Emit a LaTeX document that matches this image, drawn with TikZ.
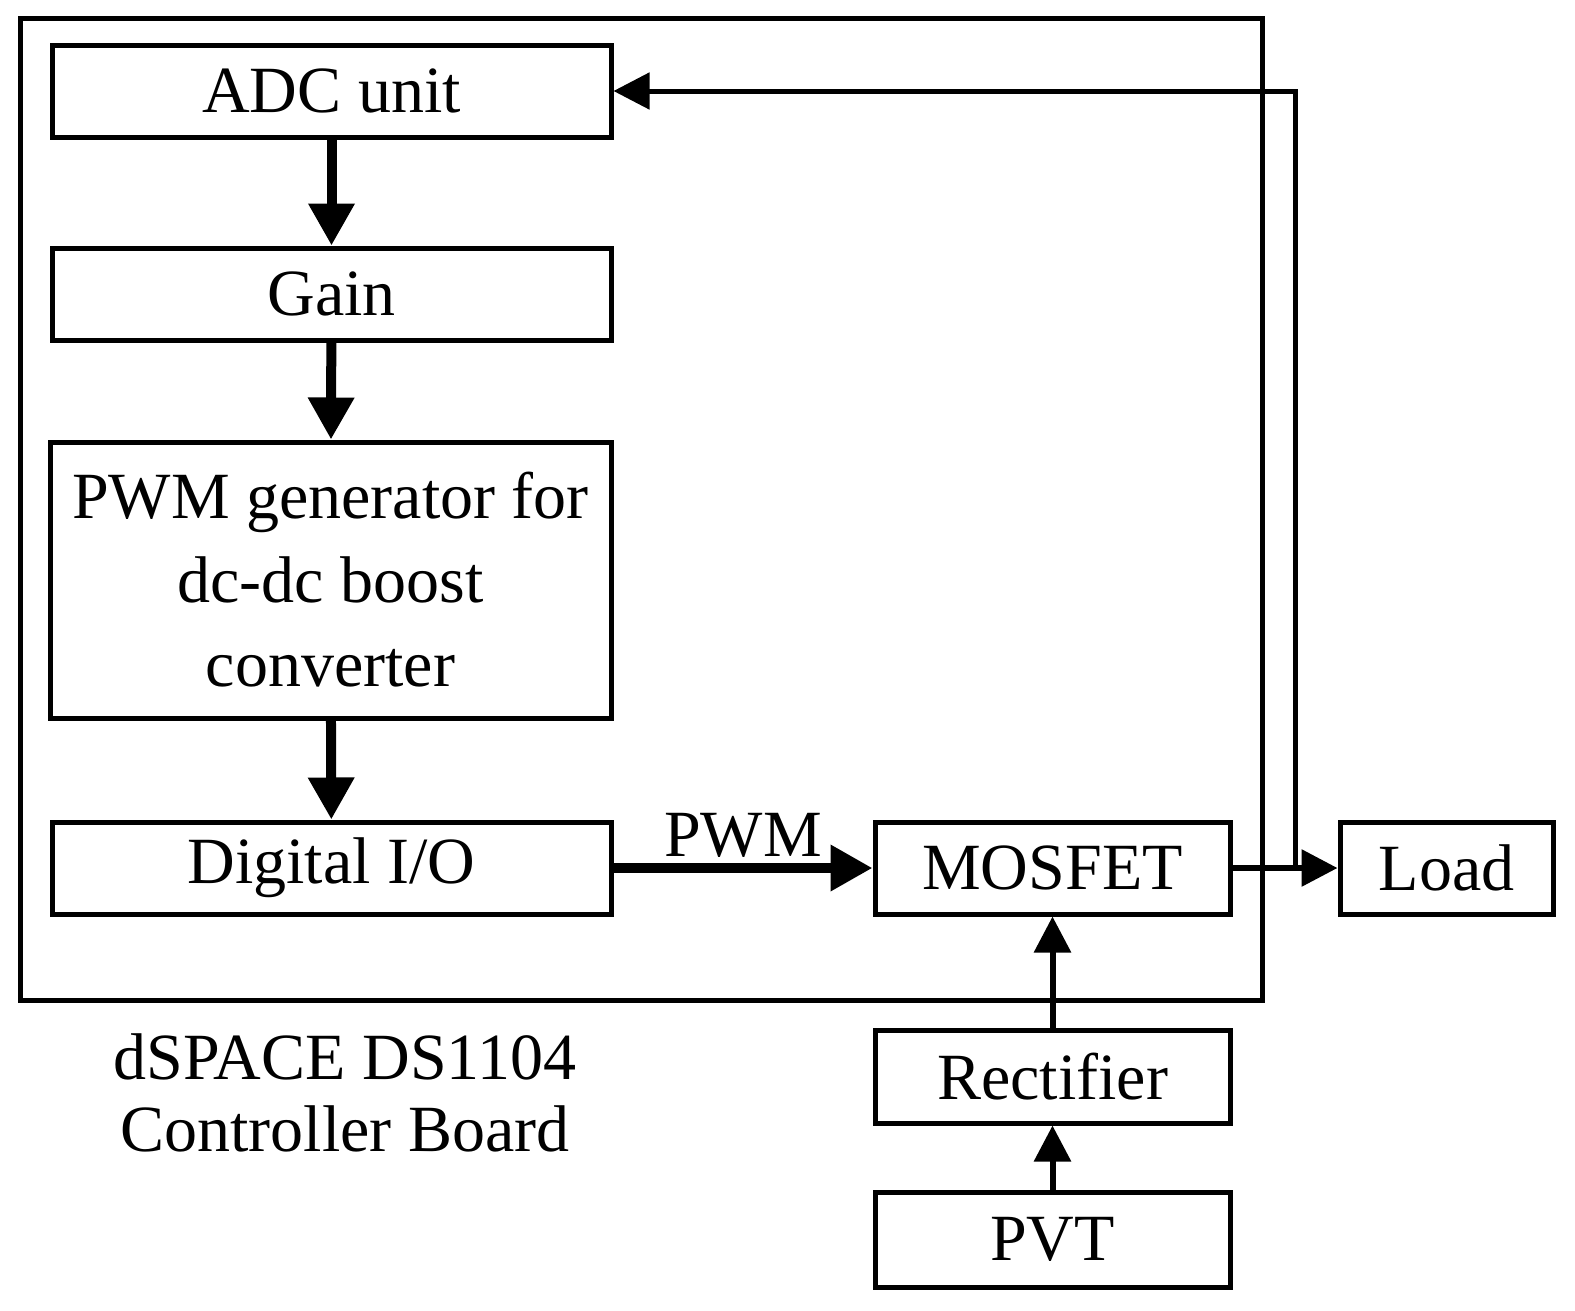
\documentclass[tikz,border=0pt]{standalone}
\usepackage{fontspec}
\setmainfont{Liberation Serif}
\usetikzlibrary{arrows.meta}
\begin{document}
\begin{tikzpicture}[x=1pt,y=-1pt,
 box/.style={draw,line width=5pt,inner sep=0pt,font=\fontsize{66}{72}\selectfont},
 thick arrow/.style={line width=10pt,-{Triangle[length=42pt,width=44pt]}},
 thin arrow/.style={line width=6pt,-{Triangle[length=36pt,width=36pt]}},
 lbl/.style={font=\fontsize{66}{72}\selectfont,align=center}]
\useasboundingbox (0,0) rectangle (1575,1310);
\draw[line width=5pt] (20,18) rectangle (1262,1000);
\node[box,minimum width=559pt,minimum height=92pt] (adc) at (331.5,91) {ADC unit};
\node[box,minimum width=559pt,minimum height=92pt] (gain) at (331.5,294) {Gain};
\node[box,minimum width=561pt,minimum height=276pt,align=center,font=\fontsize{66}{84}\selectfont] (pwm) at (330.5,580) {PWM generator for\\dc-dc boost\\converter};
\node[box,minimum width=559pt,minimum height=92pt] (dio) at (331.5,868) {Digital I/O};
\node[box,minimum width=355pt,minimum height=92pt] (mos) at (1052.5,868) {MOSFET};
\node[box,minimum width=213pt,minimum height=92pt] (load) at (1446.5,868) {Load};
\node[box,minimum width=355pt,minimum height=93pt] (rect) at (1052.5,1076.5) {Rectifier};
\node[box,minimum width=355pt,minimum height=95pt] (pvt) at (1052.5,1239.5) {PVT};
\draw[thick arrow] (adc) -- (gain);
\draw[thick arrow] (gain) -- (pwm);
\draw[thick arrow] (pwm) -- (dio);
\draw[thick arrow] (dio) -- node[lbl,above=2pt] (pl) {PWM} (mos);
\draw[thin arrow] (mos) -- (load);
\draw[thin arrow] (rect) -- (mos);
\draw[thin arrow] (pvt) -- (rect);
\coordinate (tap) at (1295,868);
\draw[line width=5pt,-{Triangle[length=36pt,width=36pt]}] (tap) |- (adc.east);
\node[lbl] (ds) at (345,1093) {dSPACE DS1104\\Controller Board};
\end{tikzpicture}
\end{document}
